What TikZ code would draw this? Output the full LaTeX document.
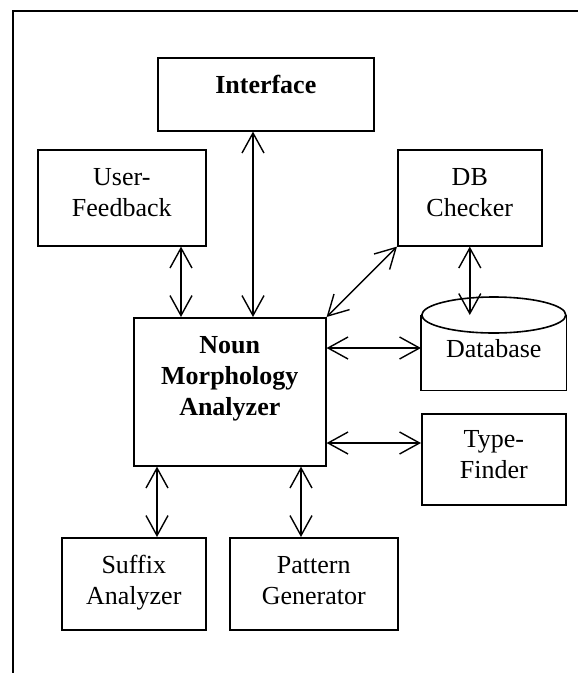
\documentclass[tikz,border=0pt]{standalone}
\usepackage{fontspec}
\setmainfont{Liberation Serif}
\usetikzlibrary{arrows.meta}

% box text: [top strut]{width}{height}{text}
\newcommand{\blocktext}[4][36pt]{\parbox[c][#3][t]{#2}{\centering\rule{0pt}{#1}#4}}

\tikzset{
  blk/.style={draw, line width=1.6pt, inner sep=0pt, anchor=north west},
  link/.style={line width=1.4pt, {Straight Barb[length=20pt,width=22pt]}-{Straight Barb[length=20pt,width=22pt]}},
}

\begin{document}
\begin{tikzpicture}[x=1pt, y=-1pt, font=\fontsize{26}{31}\selectfont]
    \useasboundingbox (0,0) rectangle (578,673);
    % frame
    \draw[line width=1.6pt] (13,673) -- (13,11) -- (578,11);

    \draw(157,57) node [blk](intf){\blocktext{216pt}{73pt}{\bfseries Interface}};
    \draw(37,149) node [blk](uf){\blocktext{168pt}{96pt}{User-\\Feedback}};
    \draw(397,149) node [blk](dbc){\blocktext{144pt}{96pt}{DB\\Checker}};
    \draw(133,317) node [blk](noun){\blocktext{192pt}{148pt}{\bfseries Noun\\Morphology\\Analyzer}};
    \draw(421,315) node [blk, draw=none](db){\blocktext[42pt]{144pt}{74pt}{Database}};
    \draw(421,413) node [blk](tf){\blocktext[34pt]{144pt}{91pt}{Type-\\Finder}};
    \draw(61,537) node [blk](sfx){\blocktext{144pt}{92pt}{Suffix\\Analyzer}};
    \draw(229,537) node [blk](pat){\blocktext{168pt}{92pt}{Pattern\\Generator}};

    % database can
    \draw[line width=1.6pt] (db.north west) -- (db.south west) -- (db.south east) -- (db.north east);
    \draw[line width=1.6pt, fill=white] (db.north) ellipse [x radius=72pt, y radius=18pt];

    \draw[link] ([xshift=48pt]noun.north west) -- ([xshift=48pt]noun.north west |- uf.south);
    \draw[link] ([xshift=120pt]noun.north west) -- ([xshift=120pt]noun.north west |- intf.south);
    \draw[link] (noun.north east) -- (dbc.south west);
    \draw[link] (dbc.south) -- (dbc.south |- db.north);
    \draw[link] ([yshift=-31pt]noun.north east) -- ([yshift=-31pt]noun.north east -| db.west);
    \draw[link] ([yshift=-126pt]noun.north east) -- ([yshift=-126pt]noun.north east -| tf.west);
    \draw[link] ([xshift=24pt]noun.south west) -- ([xshift=24pt]noun.south west |- sfx.north);
    \draw[link] ([xshift=168pt]noun.south west) -- ([xshift=168pt]noun.south west |- pat.north);
\end{tikzpicture}
\end{document}
